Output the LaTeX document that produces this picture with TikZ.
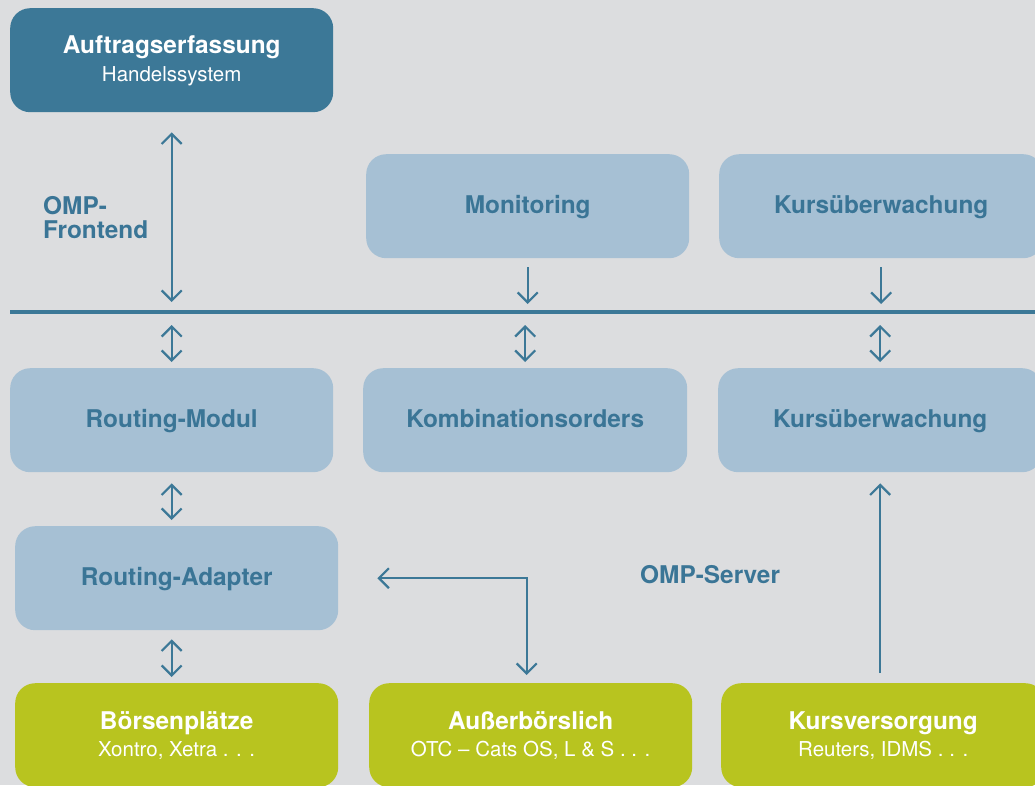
\documentclass[tikz,border=0pt]{standalone}
\usepackage{fontspec}
\setmainfont{TeX Gyre Heros}
\usetikzlibrary{arrows.meta,calc}
\definecolor{bg}{HTML}{DCDDDF}
\definecolor{dblue}{HTML}{3C7897}
\definecolor{lblue}{HTML}{A6C0D4}
\definecolor{lgreen}{HTML}{B8C41F}
\definecolor{tblue}{HTML}{3A7596}
\begin{document}
\begin{tikzpicture}[x=1pt,y=-1pt,
  box/.style={rounded corners=20pt, minimum width=323pt, minimum height=104pt, inner sep=0pt, anchor=north west},
  darkbox/.style={box, fill=dblue},
  lightbox/.style={box, fill=lblue, text=tblue, font=\fontsize{24.4}{24}\selectfont\bfseries, text height=14pt, text depth=0pt},
  greenbox/.style={box, fill=lgreen},
  ttl/.style={font=\fontsize{24.4}{24}\selectfont\bfseries, anchor=base, inner sep=0pt, text=white},
  subt/.style={font=\fontsize{20.5}{20}\selectfont, anchor=base, inner sep=0pt, text=white},
  lbl/.style={font=\fontsize{24.4}{24}\selectfont\bfseries, inner sep=0pt, text=tblue},
  conn/.style={draw=dblue, line width=2.2pt, >={Straight Barb[length=10pt,width=20pt]}},
  bus/.style={draw=dblue, line width=4pt}
]
\fill[bg] (0,0) rectangle (1035,785);
\useasboundingbox (0,0) rectangle (1035,785);

% boxes
\node[darkbox] (auf) at (10,8) {};
\node[ttl] (aufT) at ($(auf.north)+(0,45)$) {Auftragserfassung};
\node[subt] (aufS) at ($(auf.north)+(0,73)$) {Handelssystem};

\node[lightbox] (mon) at (366,154) {Monitoring};
\node[lightbox, minimum width=324pt] (k1) at (719,154) {Kursüberwachung};

\node[lightbox] (rm) at (10,368) {Routing-Modul};
\node[lightbox, minimum width=324pt] (kom) at (363,368) {Kombinationsorders};
\node[lightbox, minimum width=324pt] (k2) at (718,368) {Kursüberwachung};

\node[lightbox] (ra) at (15,526) {Routing-Adapter};

\node[greenbox] (bp) at (15,683) {};
\node[ttl] (bpT) at ($(bp.north)+(0,46)$) {Börsenplätze};
\node[subt] (bpS) at ($(bp.north)+(0,73)$) {Xontro, Xetra . . .};

\node[greenbox] (ab) at (369,683) {};
\node[ttl] (abT) at ($(ab.north)+(0,46)$) {Außerbörslich};
\node[subt] (abS) at ($(ab.north)+(0,73)$) {OTC – Cats OS, L \& S . . .};

\node[greenbox, minimum width=324pt] (kv) at (721,683) {};
\node[ttl] (kvT) at ($(kv.north)+(0,46)$) {Kursversorgung};
\node[subt] (kvS) at ($(kv.north)+(0,73)$) {Reuters, IDMS . . .};

% labels
\node[lbl, anchor=north west, align=left] (ompf) at (43,196) {OMP-\\Frontend};
\node[lbl, anchor=base west] (omps) at (640,583) {OMP-Server};

% bus
\coordinate (busL) at (10,312);
\coordinate (busR) at (1035,312);
\draw[bus] (busL) -- (busR);

% connectors
\draw[conn, <->, shorten <=20pt, shorten >=10pt] (auf.south) -- (auf.south |- busL);
\draw[conn, ->, shorten <=9pt, shorten >=8pt] (mon.south) -- (mon.south |- busL);
\draw[conn, ->, shorten <=9pt, shorten >=8pt] (k1.south) -- (k1.south |- busL);

\draw[conn, <->, shorten <=13pt, shorten >=6pt] (rm.north |- busL) -- (rm.north);
\draw[conn, <->, shorten <=13pt, shorten >=6pt] (kom.north |- busL) -- (kom.north);
\draw[conn, <->, shorten <=13pt, shorten >=6pt] (k2.north |- busL) -- (k2.north);

\draw[conn, <->, shorten <=11pt, shorten >=6pt] (rm.south) -- (rm.south |- ra.north);
\draw[conn, <->, shorten <=9pt, shorten >=6pt] (ra.south -| rm.south) -- (bp.north -| rm.south);

\draw[conn, <->, shorten <=39pt, shorten >=8pt] (ra.east) -| ([xshift=-4pt]ab.north);

\draw[conn, ->, shorten <=10pt, shorten >=11pt] (kv.north -| k2.south) -- (k2.south);
\end{tikzpicture}
\end{document}
